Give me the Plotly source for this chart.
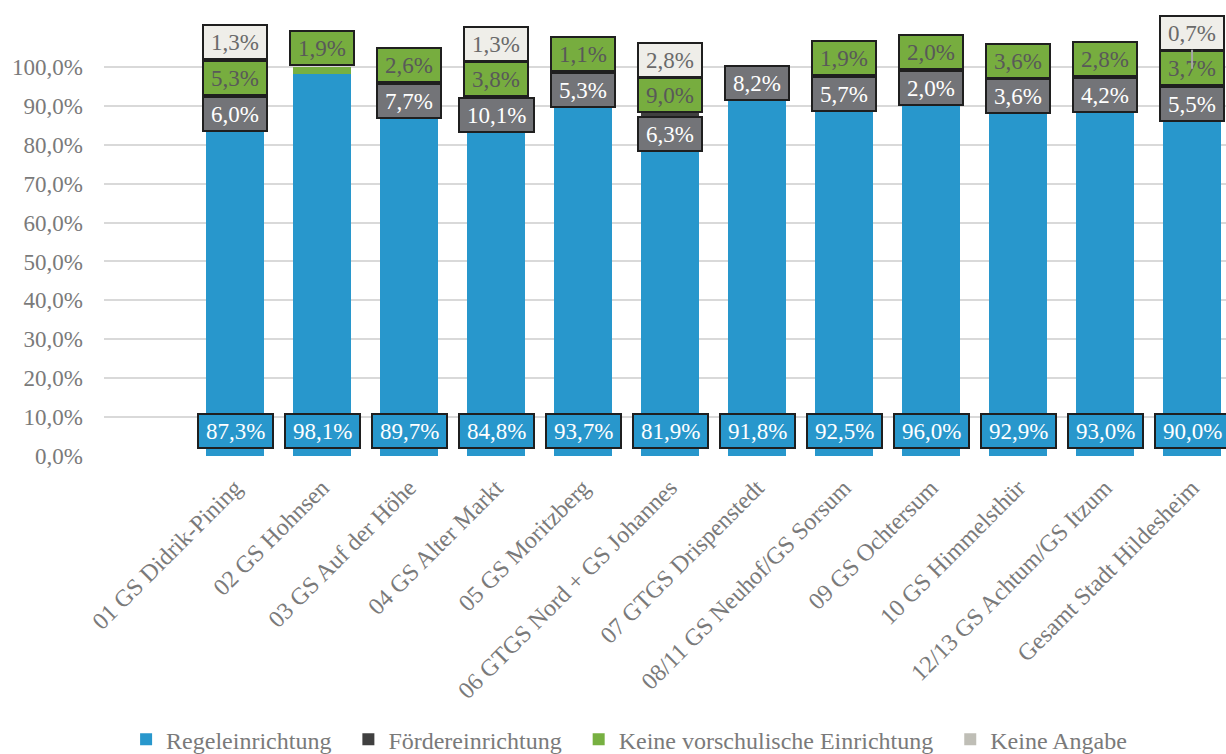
import plotly.graph_objects as go

categories = [
    "01 GS Didrik-Pining", "02 GS Hohnsen", "03 GS Auf der Höhe", "04 GS Alter Markt",
    "05 GS Moritzberg", "06 GTGS Nord + GS Johannes", "07 GTGS Drispenstedt",
    "08/11 GS Neuhof/GS Sorsum", "09 GS Ochtersum", "10 GS Himmelsthür",
    "12/13 GS Achtum/GS Itzum", "Gesamt Stadt Hildesheim",
]
regel = [87.3, 98.1, 89.7, 84.8, 93.7, 81.9, 91.8, 92.5, 96.0, 92.9, 93.0, 90.0]
foerder = [6.0, 0.0, 7.7, 10.1, 5.3, 6.3, 8.2, 5.7, 2.0, 3.6, 4.2, 5.5]
keine_vorschul = [5.3, 1.9, 2.6, 3.8, 1.1, 9.0, 0.0, 1.9, 2.0, 3.6, 2.8, 3.7]
keine_angabe = [1.3, 0.0, 0.0, 1.3, 0.0, 2.8, 0.0, 0.0, 0.0, 0.0, 0.0, 0.7]
series_names = ["Regeleinrichtung", "Fördereinrichtung", "Keine vorschulische Einrichtung", "Keine Angabe"]
y_ticks = [0, 10, 20, 30, 40, 50, 60, 70, 80, 90, 100]

FONT = "Liberation Serif, Times New Roman, serif"
FS = 23
AXIS_TXT = "#7a7a7a"
bar_colors = ["#2897cc", "#404040", "#77b041", "#bfbeb6"]
box_fill = ["#2897cc", "#737478", "#77ad3f", "#efeee9"]
box_text = ["white", "white", "#595959", "#6a6a6a"]

PLOT_H = 754 - 28 - 298
Y_MAX = 110
PX_PER_UNIT = PLOT_H / Y_MAX

series = [regel, foerder, keine_vorschul, keine_angabe]

fig = go.Figure()
for k, (name, vals, col) in enumerate(zip(series_names, series, bar_colors)):
    legend_name = name if k == len(series) - 1 else name + "\u00a0\u00a0"
    fig.add_trace(go.Bar(x=categories, y=vals, name=legend_name, marker_color=col,
                         marker_line_width=0))


def fmt(v):
    return f"{v:.1f}".replace(".", ",") + "%"


def text_w(s):
    w = 0.0
    for ch in s:
        if ch.isdigit():
            w += 0.5
        elif ch == ",":
            w += 0.25
        elif ch == "%":
            w += 0.833
    return w * FS


def add_label(cat, y, v, k, anchor=None):
    s = fmt(v)
    common = dict(
        text=s, xref="x", yref="y",
        font=dict(family=FONT, size=FS, color=box_text[k]),
        bgcolor=box_fill[k], bordercolor="#1f1f1f", borderwidth=2, borderpad=1,
        width=text_w(s) + 12, height=30, align="center", valign="middle",
    )
    if anchor is None:
        fig.add_annotation(x=cat, y=y, showarrow=False, yanchor="middle",
                           xanchor="center", **common)
    else:
        fig.add_annotation(x=cat, y=anchor, showarrow=True, arrowhead=0,
                           arrowwidth=2, arrowcolor="#a6a6a6",
                           ax=0, ay=-(y - anchor) * PX_PER_UNIT, **common)


H = 9.15      # label box height in axis units
DROP = 2.3    # nudge of lowest label when labels collide
LEADER = 8.0  # displacement beyond which a leader line is drawn
for i, cat in enumerate(categories):
    add_label(cat, 6.4, regel[i], 0)
    vals = [foerder[i], keine_vorschul[i], keine_angabe[i]]
    top = max([j for j in range(3) if vals[j] > 0], default=-1)
    if top < 0:
        continue
    base = regel[i]
    centers = []
    for j in range(top + 1):
        centers.append(base + vals[j] / 2)
        base += vals[j]
    pos = []
    for j, c in enumerate(centers):
        if j == 0:
            p = c - DROP if (len(centers) > 1 and centers[1] - c < H) else c
        else:
            p = max(c, pos[-1] + H)
        pos.append(p)
    for j in range(top + 1):
        if vals[j] > 0:
            anchor = centers[j] if pos[j] - centers[j] > LEADER else None
            add_label(cat, pos[j], vals[j], j + 1, anchor)

fig.update_layout(
    barmode="stack",
    bargap=0.333,
    width=1226, height=754,
    margin=dict(l=104, r=0, t=28, b=298, autoexpand=False),
    paper_bgcolor="white", plot_bgcolor="white",
    separators=", ",
    font=dict(family=FONT, size=FS, color=AXIS_TXT),
    xaxis=dict(type="category", range=[-1.506, 11.39], tickangle=-45, automargin=False,
               showgrid=False, showline=False, zeroline=False, ticks="",
               ticklabelstandoff=12,
               tickfont=dict(family=FONT, size=24, color=AXIS_TXT)),
    yaxis=dict(range=[0, Y_MAX], tickvals=y_ticks, ticktext=[fmt(v) for v in y_ticks],
               showgrid=True, gridcolor="#d9d9d9", gridwidth=1.5, zeroline=False,
               automargin=False, showline=False, ticks="", ticklabelstandoff=20,
               tickfont=dict(family=FONT, size=FS, color=AXIS_TXT)),
    legend=dict(orientation="h", x=0.468, xanchor="center", y=-0.663, yanchor="middle",
                font=dict(family=FONT, size=24, color=AXIS_TXT), itemwidth=30,
                traceorder="normal"),
    showlegend=True,
)

fig.write_html(
    "out.html",
    config={"displayModeBar": False},
    post_script="document.body.style.margin='0';document.body.style.overflow='hidden';",
)
